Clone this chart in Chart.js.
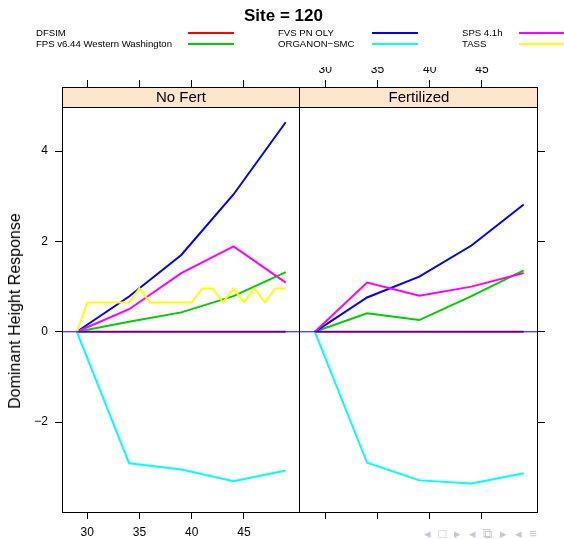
<!DOCTYPE html>
<html>
<head>
<meta charset="utf-8">
<script src="https://cdn.jsdelivr.net/npm/chart.js@4.4.1/dist/chart.umd.min.js"></script>
<style>
  body { margin: 0; background: #fff; font-family: "Liberation Sans", Arial, sans-serif; }
  #page { position: relative; width: 564px; height: 539px; overflow: hidden; }
  canvas { position: absolute; top: 0; }
  #title { position: absolute; left: 0; width: 567px; top: 6px; text-align: center; font-weight: bold; font-size: 17px; }
  .lg { position: absolute; font-size: 9.6px; line-height: 11px; white-space: nowrap; }
  .sw { position: absolute; height: 2px; }
  #ylab { position: absolute; left: 15px; top: 311px; font-size: 16px; white-space: nowrap;
          transform: translate(-50%, -50%) rotate(-90deg); }
  #nav { position: absolute; left: 424px; top: 526px; font-size: 13px; color: #c4c4dc; letter-spacing: 2px; white-space: nowrap; }
</style>
</head>
<body>
<div id="page">
  <canvas id="leftPanel" width="300" height="539" style="left:0"></canvas>
  <canvas id="rightPanel" width="264" height="539" style="left:300px"></canvas>
  <div id="title">Site = 120</div>
  <div id="legend"></div>
  <div id="ylab">Dominant Height Response</div>
  <div id="nav">◂ □ ▸ ◂ ⧉ ▸ ◂ ≡</div>
</div>
<script>
const panels = ["No Fert", "Fertilized"];
const models = ["DFSIM", "FPS v6.44 Western Washington", "FVS PN OLY", "ORGANON\u2212SMC", "SPS 4.1h", "TASS"];
const modelColors = ["#ff0000", "#00cc00", "#0000ff", "#00ffff", "#ff00ff", "#ffff00"];

const years = [29, 34, 39, 44, 49];
const tassYears = [29, 30, 31, 32, 33, 34, 35, 36, 37, 38, 39, 40, 41, 42, 43, 44, 45, 46, 47, 48, 49];

const xTicks = [30, 35, 40, 45];
const yTicks = [-2, 0, 2, 4];

// No Fert
const noFertDfsim = [0, 0, 0, 0, 0];
const noFertFps = [0, 0.22, 0.43, 0.79, 1.32];
const noFertFvs = [0, 0.78, 1.70, 3.04, 4.64];
const noFertOrganon = [0, -2.91, -3.05, -3.31, -3.07];
const noFertSps = [0, 0.50, 1.30, 1.89, 1.09];
const noFertTass = [0, 0.65, 0.65, 0.65, 0.65, 0.65, 0.96, 0.65, 0.65, 0.65, 0.65,
                    0.65, 0.96, 0.96, 0.65, 0.96, 0.65, 0.96, 0.65, 0.96, 0.96];

// Fertilized
const fertDfsim = [0, 0, 0, 0, 0];
const fertFps = [0, 0.41, 0.26, 0.79, 1.36];
const fertFvs = [0, 0.76, 1.22, 1.91, 2.82];
const fertOrganon = [0, -2.90, -3.29, -3.36, -3.13];
const fertSps = [0, 1.09, 0.80, 1.00, 1.30];

const xMin = 27.58, xMax = 50.37;
const yMin = -3.99, yMax = 5.42;

Chart.defaults.font.family = '"Liberation Sans", Arial, sans-serif';
Chart.defaults.color = "#000";

// legend as plain html, three columns of two rows
const legendSpots = [
    { tx: 36, lx: 188, y: 33 },
    { tx: 36, lx: 188, y: 44 },
    { tx: 278, lx: 372, y: 33 },
    { tx: 278, lx: 372, y: 44 },
    { tx: 462, lx: 519, y: 33 },
    { tx: 462, lx: 519, y: 44 }
];
const legendEl = document.getElementById("legend");
models.forEach((m, i) => {
    const s = legendSpots[i];
    const t = document.createElement("div");
    t.className = "lg";
    t.textContent = m;
    t.style.left = s.tx + "px";
    t.style.top = (s.y - 6) + "px";
    legendEl.appendChild(t);
    const l = document.createElement("div");
    l.className = "sw";
    l.style.left = s.lx + "px";
    l.style.width = "46px";
    l.style.top = (s.y - 1) + "px";
    l.style.background = modelColors[i];
    legendEl.appendChild(l);
});

const panelFrame = {
    id: "panelFrame",
    afterDraw(chart, args, opts) {
        const { ctx, chartArea: a } = chart;
        const stripH = 20;
        ctx.save();
        ctx.fillStyle = "#ffe5cc";
        ctx.fillRect(a.left, a.top, a.right - a.left, stripH);
        ctx.strokeStyle = "#000";
        ctx.lineWidth = 1;
        ctx.beginPath();
        ctx.moveTo(a.left, a.top + 0.5);
        ctx.lineTo(a.right, a.top + 0.5);
        ctx.moveTo(a.left, a.top + stripH + 0.5);
        ctx.lineTo(a.right, a.top + stripH + 0.5);
        ctx.moveTo(a.left, a.bottom + 0.5);
        ctx.lineTo(a.right, a.bottom + 0.5);
        if (opts.leftLine) {
            ctx.moveTo(a.left + 0.5, a.top);
            ctx.lineTo(a.left + 0.5, a.bottom + 1);
        }
        ctx.moveTo(a.right - 0.5, a.top);
        ctx.lineTo(a.right - 0.5, a.bottom + 1);
        ctx.stroke();
        ctx.fillStyle = "#000";
        ctx.font = '15px "Liberation Sans", Arial, sans-serif';
        ctx.textAlign = "center";
        ctx.textBaseline = "middle";
        ctx.fillText(opts.label, (a.left + a.right) / 2, a.top + stripH / 2 + 1);
        ctx.restore();
    }
};

function makeSeries(xs, ys) {
    return xs.map((x, i) => ({ x, y: ys[i] }));
}

function buildPanel(canvasId, label, seriesList, isLeft) {
    const datasets = [];
    seriesList.forEach((s, i) => {
        if (!s) return;
        datasets.push({
            label: models[i],
            data: s,
            borderColor: modelColors[i],
            borderWidth: 2,
            pointRadius: 0,
            tension: 0,
            order: models.length - i + 1
        });
    });
    // reference line at zero
    datasets.push({
        label: "zero",
        data: [{ x: xMin, y: 0 }, { x: xMax, y: 0 }],
        borderColor: "#0000ff",
        borderWidth: 1,
        pointRadius: 0,
        order: 0
    });

    const tickGrid = { drawOnChartArea: false, drawTicks: true, tickLength: 7, color: "#000", lineWidth: 1 };
    const hidden = "rgba(0,0,0,0)";

    new Chart(document.getElementById(canvasId), {
        type: "line",
        data: { datasets },
        options: {
            responsive: false,
            animation: false,
            events: [],
            layout: { padding: { top: 67, left: 0, right: 0, bottom: 0 } },
            plugins: {
                legend: { display: false },
                tooltip: { enabled: false },
                panelFrame: { label, leftLine: isLeft }
            },
            scales: {
                x: {
                    type: "linear",
                    position: "bottom",
                    min: xMin,
                    max: xMax,
                    afterBuildTicks: (s) => { s.ticks = xTicks.map(v => ({ value: v })); },
                    afterFit: (s) => { s.height = 27; },
                    grid: tickGrid,
                    border: { display: false },
                    ticks: { font: { size: 12 }, padding: 6, maxRotation: 0, color: isLeft ? "#000" : hidden }
                },
                xTop: {
                    type: "linear",
                    position: "top",
                    display: true,
                    min: xMin,
                    max: xMax,
                    afterBuildTicks: (s) => { s.ticks = xTicks.map(v => ({ value: v })); },
                    afterFit: (s) => { s.height = 20; },
                    grid: tickGrid,
                    border: { display: false },
                    ticks: { font: { size: 12 }, padding: 3, maxRotation: 0, color: isLeft ? hidden : "#000" }
                },
                y: {
                    type: "linear",
                    position: isLeft ? "left" : "right",
                    min: yMin,
                    max: yMax,
                    afterBuildTicks: (s) => { s.ticks = yTicks.map(v => ({ value: v })); },
                    afterFit: (s) => { s.width = isLeft ? 62 : 26; },
                    grid: tickGrid,
                    border: { display: false },
                    ticks: {
                        font: { size: 12 },
                        padding: 7,
                        color: isLeft ? "#000" : hidden,
                        callback: (v) => String(v).replace("-", "\u2212")
                    }
                }
            }
        },
        plugins: [panelFrame]
    });
}

buildPanel("leftPanel", panels[0], [
    makeSeries(years, noFertDfsim),
    makeSeries(years, noFertFps),
    makeSeries(years, noFertFvs),
    makeSeries(years, noFertOrganon),
    makeSeries(years, noFertSps),
    makeSeries(tassYears, noFertTass)
], true);

buildPanel("rightPanel", panels[1], [
    makeSeries(years, fertDfsim),
    makeSeries(years, fertFps),
    makeSeries(years, fertFvs),
    makeSeries(years, fertOrganon),
    makeSeries(years, fertSps),
    null
], false);
</script>
</body>
</html>
